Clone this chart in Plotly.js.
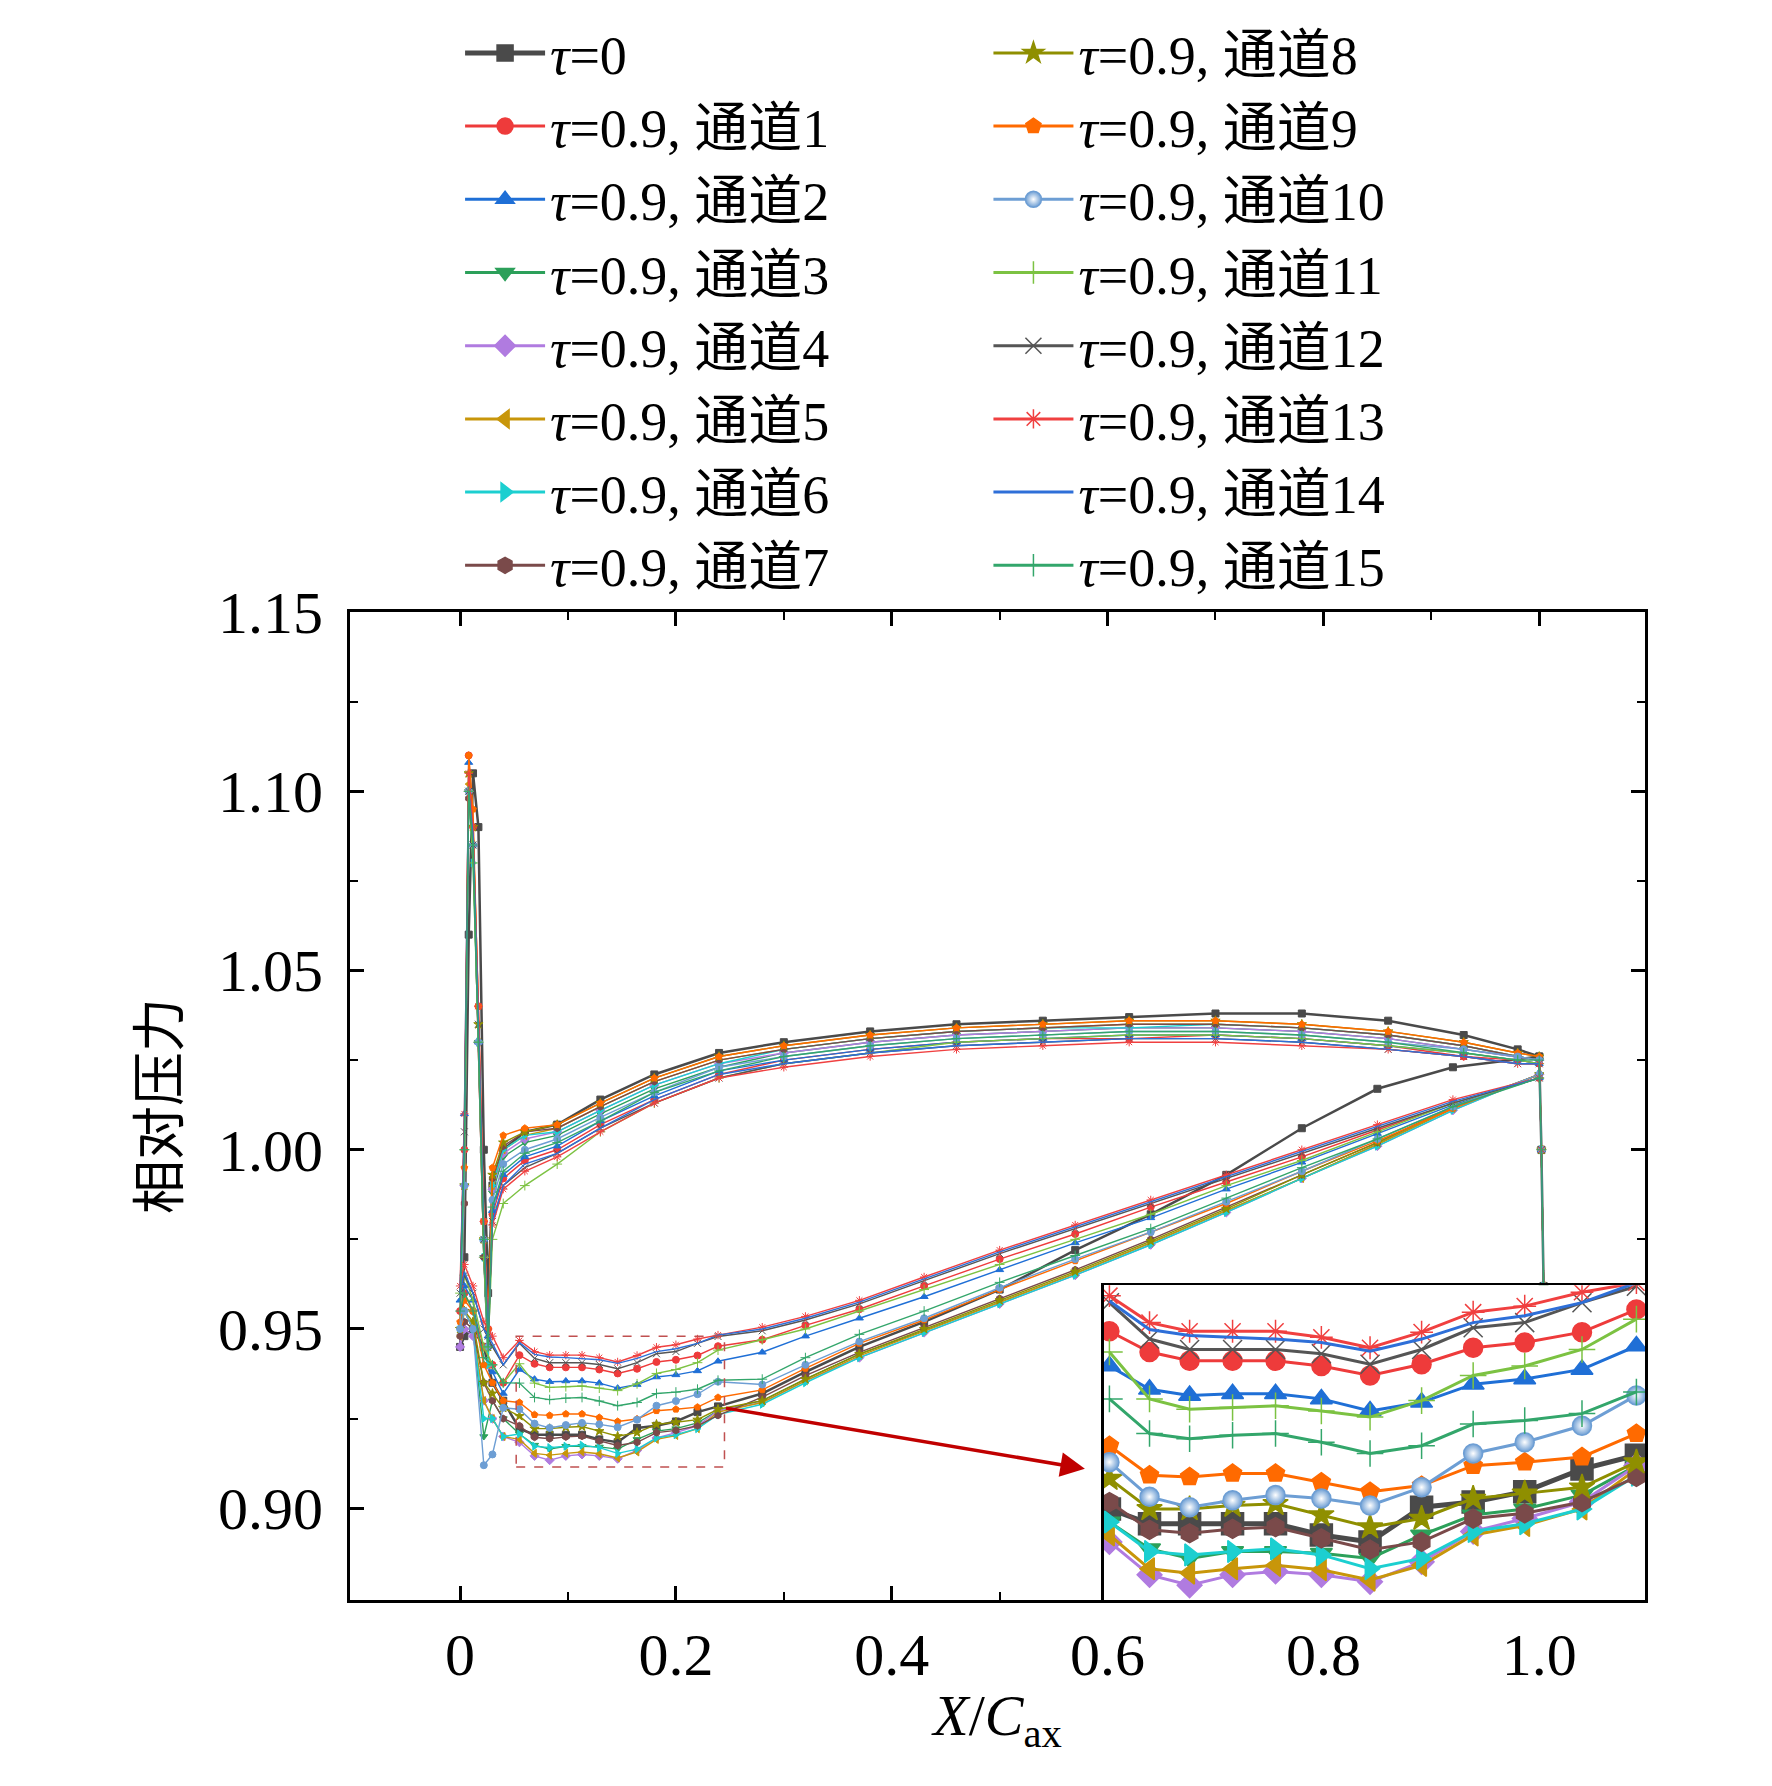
<!DOCTYPE html>
<html>
<head>
<meta charset="utf-8">
<script src="https://cdn.plot.ly/plotly-3.0.1.min.js"></script>
<style>body{margin:0;background:#fff}#chart{width:1772px;height:1786px}</style>
</head>
<body>
<div id="chart"></div>
<script>
// series order: tau=0, then channels 1..15
var names = ['<i>τ</i>=0']
for (i=1; i<=15; i++) names.push(`<i>τ</i>=0.9, 通道${i}`)

var colors = ['#4a4a4a','#ee3b3b','#1f6fd6','#2ca05a','#b07be0','#c8960a','#1ccfd0','#7a4a4a',
              '#8f8f00','#ff6a00','#6d9ed4','#7cc242','#555555','#f04040','#2e6fd8','#33a66b']
var symbols = ['square','circle','triangle-up','triangle-down','diamond','triangle-left','triangle-right','hexagon',
               'star','pentagon','circle','cross-thin-open','x-thin-open','asterisk-open','circle','cross-thin-open']

// x positions
var xInset = [0.055,0.069,0.083,0.098,0.113,0.129,0.146,0.164,0.182,0.200,0.220,0.239]
var xLowRest = [0.28,0.32,0.37,0.43,0.50,0.57,0.64,0.71,0.78,0.85,0.92,1.0]
var xLead = [0.04,0.03,0.022,0.012,0.004,0.0,0.004,0.008,0.012,0.017,0.022,0.026]
var xUpper = [0.03,0.04,0.06,0.09,0.13,0.18,0.24,0.30,0.38,0.46,0.54,0.62,0.70,0.78,0.86,0.93,0.98,1.0]
var xTrail = [1.002,1.004]

// suction side, inset region (0.05 - 0.24)
var lowInset = [
  [.9222,.9205,.9205,.9205,.9205,.9192,.9184,.9224,.9230,.9242,.9268,.9284],
  [.9427,.9403,.9393,.9393,.9393,.9387,.9376,.9389,.9408,.9414,.9426,.9452],
  [.9387,.9360,.9353,.9355,.9355,.9349,.9335,.9345,.9366,.9372,.9383,.9410],
  [.9207,.9176,.9165,.9173,.9173,.9171,.9165,.9192,.9215,.9222,.9238,.9272],
  [.9184,.9146,.9134,.9146,.9150,.9146,.9138,.9161,.9196,.9211,.9230,.9272],
  [.9192,.9153,.9148,.9153,.9157,.9152,.9140,.9157,.9192,.9203,.9222,.9268],
  [.9207,.9173,.9169,.9173,.9176,.9169,.9153,.9165,.9196,.9205,.9222,.9261],
  [.9230,.9198,.9194,.9199,.9201,.9188,.9175,.9184,.9211,.9217,.9230,.9259],
  [.9257,.9222,.9222,.9226,.9228,.9215,.9201,.9211,.9234,.9240,.9247,.9276],
  [.9295,.9261,.9259,.9263,.9263,.9253,.9242,.9249,.9272,.9276,.9282,.9309],
  [.9276,.9236,.9224,.9232,.9238,.9234,.9226,.9247,.9286,.9299,.9318,.9353],
  [.9403,.9349,.9337,.9339,.9341,.9335,.9328,.9347,.9376,.9387,.9406,.9441],
  [.9460,.9418,.9406,.9406,.9406,.9401,.9389,.9406,.9431,.9437,.9460,.9479],
  [.9468,.9437,.9427,.9427,.9427,.9420,.9408,.9426,.9449,.9456,.9472,.9483],
  [.9462,.9429,.9422,.9420,.9418,.9414,.9404,.9418,.9437,.9445,.9460,.9483],
  [.9349,.9309,.9303,.9307,.9309,.9299,.9286,.9295,.9320,.9324,.9332,.9357]
]
// suction side, 0.28 - 1.0
var lowRest = [
  [.932,.938,.945,.952,.961,.972,.982,.993,1.006,1.017,1.023,1.026],
  [.947,.951,.9555,.962,.9695,.9765,.984,.991,.998,1.0055,1.013,1.020],
  [.9435,.948,.953,.959,.9665,.974,.981,.989,.9965,1.0045,1.0125,1.020],
  [.930,.936,.943,.9495,.9575,.9655,.974,.983,.992,1.0015,1.0115,1.021],
  [.9295,.9355,.942,.949,.957,.965,.9735,.9825,.992,1.001,1.011,1.021],
  [.9295,.9355,.9425,.9495,.9575,.9655,.974,.983,.992,1.0015,1.0115,1.021],
  [.929,.935,.942,.949,.957,.965,.9735,.9825,.992,1.001,1.011,1.021],
  [.931,.937,.9435,.9505,.9585,.9665,.975,.984,.993,1.002,1.012,1.021],
  [.930,.936,.943,.950,.958,.966,.9745,.9835,.993,1.002,1.012,1.021],
  [.933,.939,.946,.9525,.961,.969,.977,.985,.994,1.0025,1.0115,1.021],
  [.9345,.940,.9465,.953,.9615,.9695,.977,.9855,.994,1.003,1.012,1.021],
  [.947,.950,.955,.961,.968,.975,.982,.990,.997,1.005,1.013,1.020],
  [.9495,.9525,.957,.9635,.971,.978,.985,.992,.999,1.006,1.013,1.020],
  [.9505,.9535,.958,.9645,.972,.979,.986,.993,1.0,1.007,1.014,1.020],
  [.950,.953,.9575,.964,.9715,.9785,.9855,.9925,.9995,1.0065,1.0135,1.020],
  [.936,.942,.9485,.955,.963,.9705,.978,.9865,.995,1.003,1.012,1.020]
]
// leading-edge region
var leadEdge = [
  [.93,.935,.945,.95,.948,.945,.97,1.06,1.105,1.09,1.0,.96],
  [.935,.94,.945,.955,.96,.955,1.0,1.11,1.09,1.04,.98,.95],
  [.932,.938,.94,.958,.962,.958,1.01,1.108,1.085,1.03,.975,.948],
  [.925,.93,.92,.95,.955,.95,.99,1.1,1.09,1.03,.97,.945],
  [.92,.925,.93,.948,.95,.945,.99,1.1,1.085,1.03,.97,.94],
  [.92,.925,.93,.95,.955,.948,.995,1.102,1.085,1.03,.97,.94],
  [.92,.925,.925,.95,.955,.95,.99,1.1,1.08,1.03,.97,.94],
  [.925,.93,.935,.95,.952,.948,.985,1.098,1.085,1.03,.97,.945],
  [.928,.932,.935,.952,.955,.95,.99,1.105,1.09,1.035,.975,.945],
  [.93,.935,.94,.955,.958,.952,.995,1.11,1.095,1.04,.98,.95],
  [.928,.915,.912,.95,.955,.95,.99,1.1,1.085,1.03,.975,.945],
  [.935,.94,.945,.958,.965,.96,1.0,1.1,1.08,1.03,.97,.945],
  [.94,.945,.95,.96,.965,.96,1.005,1.1,1.085,1.035,.975,.948],
  [.942,.948,.952,.962,.968,.962,1.01,1.105,1.09,1.04,.98,.95],
  [.94,.946,.95,.96,.966,.96,1.005,1.1,1.088,1.035,.978,.948],
  [.935,.94,.942,.955,.96,.955,1.0,1.1,1.085,1.03,.975,.945]
]
// pressure side
var upper = [
  [.99,1.0,1.005,1.007,1.014,1.021,1.027,1.030,1.033,1.035,1.036,1.037,1.038,1.038,1.036,1.032,1.028,1.026],
  [.982,.992,.997,1.0,1.007,1.014,1.021,1.025,1.028,1.030,1.031,1.031,1.032,1.031,1.029,1.026,1.025,1.024],
  [.983,.993,.998,1.001,1.008,1.015,1.022,1.025,1.028,1.030,1.031,1.032,1.032,1.031,1.029,1.027,1.025,1.024],
  [.988,.998,1.002,1.004,1.010,1.017,1.023,1.027,1.030,1.032,1.033,1.034,1.034,1.033,1.031,1.028,1.026,1.025],
  [.989,.999,1.003,1.005,1.011,1.018,1.024,1.027,1.030,1.032,1.033,1.034,1.034,1.033,1.031,1.028,1.026,1.025],
  [.99,1.0,1.004,1.006,1.012,1.019,1.025,1.028,1.031,1.033,1.034,1.035,1.035,1.034,1.032,1.029,1.026,1.025],
  [.99,1.0,1.004,1.005,1.011,1.018,1.024,1.028,1.031,1.033,1.034,1.034,1.035,1.034,1.032,1.029,1.026,1.025],
  [.992,1.001,1.005,1.006,1.012,1.019,1.025,1.028,1.031,1.033,1.034,1.035,1.035,1.034,1.032,1.029,1.026,1.025],
  [.993,1.002,1.005,1.007,1.013,1.020,1.026,1.029,1.032,1.034,1.035,1.036,1.036,1.035,1.033,1.030,1.027,1.026],
  [.995,1.004,1.006,1.007,1.013,1.020,1.026,1.029,1.032,1.034,1.035,1.036,1.036,1.035,1.033,1.030,1.027,1.026],
  [.986,.996,1.0,1.003,1.009,1.016,1.023,1.026,1.029,1.031,1.032,1.033,1.033,1.032,1.030,1.028,1.026,1.025],
  [.975,.985,.99,.996,1.005,1.013,1.020,1.024,1.027,1.030,1.031,1.032,1.032,1.031,1.029,1.027,1.025,1.024],
  [.98,.99,.995,.999,1.006,1.013,1.020,1.024,1.027,1.029,1.030,1.031,1.031,1.030,1.028,1.026,1.024,1.024],
  [.979,.989,.994,.998,1.005,1.013,1.020,1.023,1.026,1.028,1.029,1.030,1.030,1.029,1.028,1.026,1.024,1.024],
  [.98,.99,.996,.999,1.006,1.014,1.021,1.024,1.027,1.029,1.030,1.031,1.031,1.030,1.028,1.026,1.024,1.024],
  [.984,.994,.999,1.002,1.008,1.016,1.022,1.026,1.029,1.031,1.032,1.033,1.033,1.032,1.030,1.027,1.025,1.025]
]
var trailDrop = [1.0, 0.962]

var serif = 'Liberation Serif, Times New Roman, Noto Sans CJK SC'
var data = []

for (i=0; i<16; i++) {
    var xs = xLowRest.slice().reverse().concat(xInset.slice().reverse(), xLead, xUpper, xTrail)
    var ys = lowRest[i].slice().reverse().concat(lowInset[i].slice().reverse(), leadEdge[i], upper[i], trailDrop)
    var isLine = (i == 14)
    data.push({
        x: xs, y: ys, type: 'scatter',
        mode: isLine ? 'lines' : 'lines+markers',
        line: {color: colors[i], width: i == 0 ? 2.5 : 1.4},
        marker: {symbol: symbols[i], size: 7, color: colors[i], line: {color: colors[i], width: 1}},
        showlegend: false, hoverinfo: 'skip'
    })
}

for (i=0; i<16; i++) {
    var mk = {symbol: symbols[i], size: i == 0 ? 22 : 19, color: colors[i], line: {color: colors[i], width: 1.5}}
    if (i == 10) mk.gradient = {type: 'radial', color: '#ffffff'}
    data.push({
        x: xInset, y: lowInset[i], type: 'scatter', xaxis: 'x2', yaxis: 'y2',
        mode: i == 14 ? 'lines' : 'lines+markers',
        name: names[i],
        legend: i < 8 ? 'legend' : 'legend2',
        line: {color: colors[i], width: i == 0 ? 5 : 3},
        marker: mk,
        hoverinfo: 'skip'
    })
}

var legendBase = {
    font: {family: serif, size: 54, color: '#000'},
    bgcolor: 'rgba(0,0,0,0)', yanchor: 'top', itemwidth: 80, tracegroupgap: 0
}

var layout = {
    width: 1772, height: 1786,
    margin: {l: 350, r: 127, t: 608, b: 186},
    paper_bgcolor: '#fff', plot_bgcolor: '#fff',
    font: {family: serif, color: '#000'},
    showlegend: true,
    legend: Object.assign({x: 0.085, y: 1.608}, legendBase),
    legend2: Object.assign({x: 0.493, y: 1.608}, legendBase),
    xaxis: {
        range: [-0.102, 1.098], showgrid: false, zeroline: false,
        showline: true, linecolor: '#000', linewidth: 3, mirror: 'ticks',
        ticks: 'inside', ticklen: 14, tickwidth: 3, tickcolor: '#000',
        tickvals: [0,0.2,0.4,0.6,0.8,1.0], ticktext: ['0','0.2','0.4','0.6','0.8','1.0'],
        minor: {tickvals: [0.1,0.3,0.5,0.7,0.9], ticks: 'inside', ticklen: 8, tickwidth: 2, tickcolor: '#000'},
        tickfont: {family: serif, size: 60},
        title: {text: '<i>X</i>/<i>C</i><sub>ax</sub>', font: {family: serif, size: 58}, standoff: 8}
    },
    yaxis: {
        range: [0.8744, 1.15], showgrid: false, zeroline: false,
        showline: true, linecolor: '#000', linewidth: 3, mirror: 'ticks',
        ticks: 'inside', ticklen: 14, tickwidth: 3, tickcolor: '#000',
        tickvals: [0.90,0.95,1.00,1.05,1.10,1.15], ticktext: ['0.90','0.95','1.00','1.05','1.10','1.15'],
        minor: {tickvals: [0.925,0.975,1.025,1.075,1.125], ticks: 'inside', ticklen: 8, tickwidth: 2, tickcolor: '#000'},
        tickfont: {family: serif, size: 60},
        ticklabelstandoff: 12,
        title: {text: '相对压力', font: {family: 'Noto Sans CJK SC', size: 54}, standoff: 22}
    },
    xaxis2: {
        domain: [0.582, 1], anchor: 'y2', range: [0.053, 0.242],
        showgrid: false, zeroline: false, showticklabels: false, ticks: '',
        showline: true, linecolor: '#000', linewidth: 2.5, mirror: true
    },
    yaxis2: {
        domain: [0, 0.3185], anchor: 'x2', range: [0.9117, 0.948],
        showgrid: false, zeroline: false, showticklabels: false, ticks: '',
        showline: true, linecolor: '#000', linewidth: 2.5, mirror: true
    },
    shapes: [{
        type: 'rect', xref: 'x', yref: 'y', x0: 0.052, x1: 0.245, y0: 0.9115, y1: 0.948,
        line: {color: '#c05050', width: 1.5, dash: 'dash'}
    }],
    annotations: [{
        xref: 'x', yref: 'y', axref: 'x', ayref: 'y',
        x: 0.579, y: 0.911, ax: 0.245, ay: 0.928,
        showarrow: true, arrowhead: 2, arrowsize: 1.4, arrowwidth: 3.5, arrowcolor: '#c00000', text: ''
    }]
}

Plotly.newPlot('chart', data, layout, {displayModeBar: false, staticPlot: true})
</script>
</body>
</html>
